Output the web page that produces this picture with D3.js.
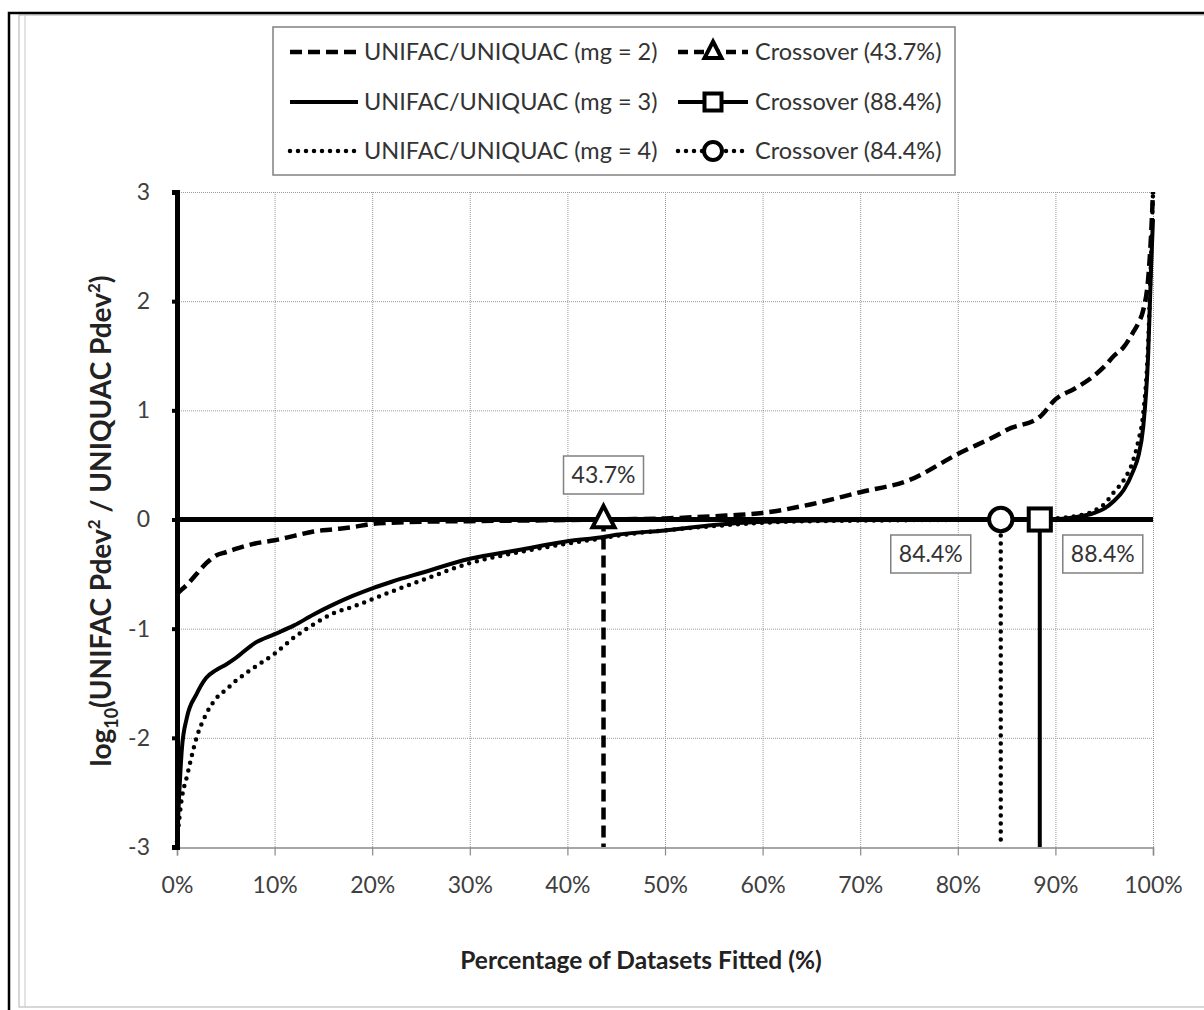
<!DOCTYPE html>
<html>
<head>
<meta charset="utf-8">
<script src="https://cdn.jsdelivr.net/npm/d3@7"></script>
<style>
  body { margin: 0; background: #fff; }
  svg { display: block; font-family: Lato, "Open Sans", sans-serif; }
</style>
</head>
<body>
<svg width="1204" height="1010"></svg>
<script>
// percentage of datasets fitted (x) shared by the three series
const pct = [0, 0.5, 1, 2, 3, 4, 5, 6, 8, 10, 12, 14, 16, 18, 20, 22, 25, 30, 35, 40, 43.7, 45, 50, 55,
  60, 65, 70, 75, 80, 84.4, 85, 88.4, 90, 92, 94, 95, 96, 97, 98, 98.5, 99, 99.5, 99.8, 100];

const mg2 = [-0.68, -0.64, -0.6, -0.5, -0.4, -0.33, -0.3, -0.27, -0.22, -0.19, -0.15, -0.11, -0.09, -0.07, -0.04,
  -0.03, -0.02, -0.015, -0.01, -0.005, 0, 0.002, 0.01, 0.03, 0.06, 0.14, 0.25, 0.36, 0.6, 0.79, 0.82, 0.94,
  1.1, 1.2, 1.32, 1.4, 1.5, 1.58, 1.72, 1.8, 1.92, 2.2, 2.6, 3.0];

const mg3 = [-2.96, -2.1, -1.82, -1.6, -1.45, -1.38, -1.33, -1.27, -1.13, -1.05, -0.97, -0.87, -0.78, -0.7, -0.63,
  -0.57, -0.49, -0.36, -0.28, -0.2, -0.16, -0.14, -0.1, -0.05, -0.02, -0.01, -0.005, -0.004, -0.003, -0.002,
  -0.002, 0, 0.003, 0.02, 0.06, 0.1, 0.17, 0.27, 0.45, 0.58, 0.85, 1.5, 2.3, 2.75];

const mg4 = [-2.95, -2.55, -2.36, -2.0, -1.78, -1.64, -1.56, -1.48, -1.35, -1.23, -1.08, -0.96, -0.86, -0.8, -0.73,
  -0.66, -0.56, -0.4, -0.3, -0.22, -0.17, -0.15, -0.1, -0.06, -0.03, -0.015, -0.01, -0.006, -0.003, 0,
  0.001, 0.005, 0.01, 0.03, 0.08, 0.14, 0.25, 0.36, 0.55, 0.72, 0.97, 1.6, 2.4, 3.0];

const seriesNames = ['UNIFAC/UNIQUAC (mg = 2)', 'UNIFAC/UNIQUAC (mg = 3)', 'UNIFAC/UNIQUAC (mg = 4)'];
const crossovers = [43.7, 88.4, 84.4];
const crossNames = ['Crossover (43.7%)', 'Crossover (88.4%)', 'Crossover (84.4%)'];
const xTicks = [0, 10, 20, 30, 40, 50, 60, 70, 80, 90, 100];
const yTicks = [-3, -2, -1, 0, 1, 2, 3];

const svg = d3.select('svg');

// outer frame
svg.append('rect').attr('x', 19).attr('y', 15).attr('width', 1200).attr('height', 992)
  .attr('fill', 'none').attr('stroke', '#b0b0b0').attr('stroke-width', 1);
svg.append('line').attr('x1', 25).attr('x2', 25).attr('y1', 15).attr('y2', 1007)
  .attr('stroke', '#c8c8c8').attr('stroke-width', 1);
svg.append('path').attr('d', 'M9,1010 V13 H1204')
  .attr('fill', 'none').attr('stroke', '#000').attr('stroke-width', 2.5);

const x = d3.scaleLinear().domain([0, 100]).range([177, 1153]);
const y = d3.scaleLinear().domain([-3, 3]).range([847, 192]);

// styles per series
const dashes = ['12,6', null, '0,8'];
const caps = ['butt', 'butt', 'round'];
const widths = [4.5, 4, 4.5];

// gridlines
const grid = svg.append('g').attr('stroke', '#9a9a9a').attr('stroke-width', 1).attr('stroke-dasharray', '1,1');
grid.selectAll('.vg').data(xTicks.slice(1)).join('line')
  .attr('x1', d => x(d) + 0.5).attr('x2', d => x(d) + 0.5).attr('y1', y(3)).attr('y2', y(-3));
grid.selectAll('.hg').data(yTicks.filter(d => d !== 0 && d !== -3)).join('line')
  .attr('x1', x(0)).attr('x2', x(100)).attr('y1', d => y(d) + 0.5).attr('y2', d => y(d) + 0.5);

// x axis (thin, at bottom)
const xAxis = svg.append('g').attr('transform', `translate(0,${y(-3) + 0.5})`)
  .call(d3.axisBottom(x).tickValues(xTicks).tickFormat(d => d + '%').tickSize(8).tickPadding(21));
xAxis.select('.domain').attr('stroke', '#8a8a8a').attr('stroke-width', 1.5);
xAxis.selectAll('.tick line').attr('stroke', '#8a8a8a').attr('stroke-width', 1.2);
xAxis.selectAll('text').attr('font-size', 23).attr('fill', '#404040').attr('font-family', 'Lato, sans-serif');

// y axis (thick black)
const yAxis = svg.append('g').attr('transform', `translate(${x(0)},0)`)
  .call(d3.axisLeft(y).tickValues(yTicks).tickFormat(d => String(d)).tickSize(5).tickPadding(22));
yAxis.select('.domain').attr('stroke', '#000').attr('stroke-width', 5);
yAxis.selectAll('.tick line').attr('stroke', '#000').attr('stroke-width', 4);
yAxis.selectAll('text').attr('font-size', 23).attr('fill', '#404040').attr('font-family', 'Lato, sans-serif');

// zero line
svg.append('line').attr('x1', x(0)).attr('x2', x(100)).attr('y1', y(0)).attr('y2', y(0))
  .attr('stroke', '#000').attr('stroke-width', 5);

// series
const line = d3.line().x((d, i) => x(pct[i])).y(d => y(d)).curve(d3.curveMonotoneX);
[mg2, mg3, mg4].forEach(function(vals, k) {
  svg.append('path').datum(vals).attr('d', line)
    .attr('fill', 'none').attr('stroke', '#000')
    .attr('stroke-width', widths[k])
    .attr('stroke-dasharray', dashes[k])
    .attr('stroke-linecap', caps[k])
    .attr('stroke-linejoin', 'round');
});

// crossover drop lines and markers
crossovers.forEach(function(c, k) {
  svg.append('line').attr('x1', x(c)).attr('x2', x(c)).attr('y1', y(0)).attr('y2', y(-3))
    .attr('stroke', '#000').attr('stroke-width', k === 1 ? 4 : 4.5)
    .attr('stroke-dasharray', dashes[k]).attr('stroke-linecap', caps[k]);
});

function marker(g, k, cx, cy, s) {
  if (k === 0) {
    g.append('path').attr('d', `M${cx},${cy - s * 1.05} L${cx + s * 0.85},${cy + s * 0.6} L${cx - s * 0.85},${cy + s * 0.6} Z`)
      .attr('fill', '#fff').attr('stroke', '#000').attr('stroke-width', 4).attr('stroke-linejoin', 'miter');
  } else if (k === 1) {
    g.append('rect').attr('x', cx - s * 0.85).attr('y', cy - s * 0.85).attr('width', s * 1.7).attr('height', s * 1.7)
      .attr('fill', '#fff').attr('stroke', '#000').attr('stroke-width', 4);
  } else {
    g.append('circle').attr('cx', cx).attr('cy', cy).attr('r', s * 0.9)
      .attr('fill', '#fff').attr('stroke', '#000').attr('stroke-width', 4);
  }
}
const mk = svg.append('g');
crossovers.forEach(function(c, k) { marker(mk, k, x(c), y(0), 13); });

// value labels
const labelPos = [[x(43.7), 475], [x(88.4) + 63, 554], [x(84.4) - 70, 554]];
crossovers.forEach(function(c, k) {
  const g = svg.append('g').attr('transform', `translate(${labelPos[k][0]},${labelPos[k][1]})`);
  g.append('rect').attr('x', -40).attr('y', -19).attr('width', 80).attr('height', 38)
    .attr('fill', '#fff').attr('stroke', '#808080').attr('stroke-width', 1.5);
  g.append('text').attr('text-anchor', 'middle').attr('dy', '0.36em')
    .attr('font-size', 23).attr('fill', '#333').text(c.toFixed(1) + '%');
});

// axis titles
svg.append('text').attr('x', 641).attr('y', 969).attr('text-anchor', 'middle')
  .attr('font-size', 24.5).attr('font-weight', 'bold').attr('fill', '#222')
  .text('Percentage of Datasets Fitted (%)');

const yt = svg.append('text').attr('transform', 'translate(111,521) rotate(-90)')
  .attr('text-anchor', 'middle').attr('font-size', 28).attr('font-weight', 'bold').attr('fill', '#222');
yt.append('tspan').text('log');
yt.append('tspan').attr('font-size', 18).attr('dy', 7).text('10');
yt.append('tspan').attr('dy', -7).text('(UNIFAC Pdev');
yt.append('tspan').attr('font-size', 17).attr('dy', -11).text('2');
yt.append('tspan').attr('dy', 11).text(' / UNIQUAC Pdev');
yt.append('tspan').attr('font-size', 17).attr('dy', -11).text('2');
yt.append('tspan').attr('dy', 11).text(')');

// legend
const legend = svg.append('g');
legend.append('rect').attr('x', 273).attr('y', 27).attr('width', 682).attr('height', 148)
  .attr('fill', '#fff').attr('stroke', '#808080').attr('stroke-width', 1.5);
const rowY = [52, 102, 151];
seriesNames.forEach(function(name, k) {
  legend.append('line').attr('x1', 290).attr('x2', 358).attr('y1', rowY[k]).attr('y2', rowY[k])
    .attr('stroke', '#000').attr('stroke-width', widths[k])
    .attr('stroke-dasharray', dashes[k]).attr('stroke-linecap', caps[k]);
  legend.append('text').attr('x', 364).attr('y', rowY[k]).attr('dy', '0.35em')
    .attr('font-size', 23.5).attr('fill', '#333').text(name);
  legend.append('line').attr('x1', 678).attr('x2', 748).attr('y1', rowY[k]).attr('y2', rowY[k])
    .attr('stroke', '#000').attr('stroke-width', widths[k])
    .attr('stroke-dasharray', k === 0 ? '10,6' : k === 2 ? '0,8' : null).attr('stroke-linecap', caps[k]);
  marker(legend, k, 713, rowY[k], 10);
  legend.append('text').attr('x', 755).attr('y', rowY[k]).attr('dy', '0.35em')
    .attr('font-size', 23.5).attr('fill', '#333').text(crossNames[k]);
});
</script>
</body>
</html>
